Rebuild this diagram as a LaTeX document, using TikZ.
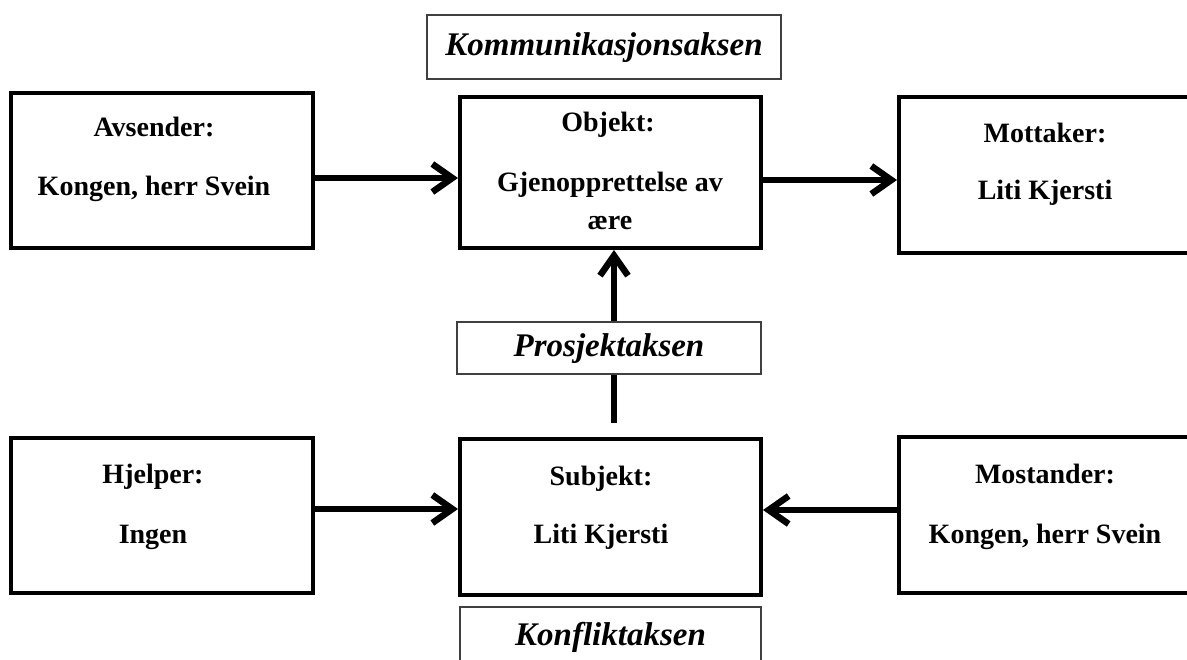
\documentclass[tikz,border=0pt]{standalone}
\usepackage{fontspec}
\setmainfont{Liberation Serif}
\usetikzlibrary{arrows.meta}

\tikzset{
  akt/.style={draw,line width=4pt,minimum width=302pt,minimum height=155pt,inner sep=0pt},
  tittel/.style={anchor=base,inner sep=0pt,font=\fontsize{28}{34}\selectfont\bfseries},
  aksen/.style={draw=black!75,fill=white,line width=1.5pt,inner sep=0pt,text height=20pt,text depth=2pt,
    font=\fontsize{33}{38}\selectfont\bfseries\itshape},
  pil/.style={line width=6.5pt,-{Straight Barb[length=20pt,width=28pt]}}
}

\begin{document}
\begin{tikzpicture}[x=1pt,y=-1pt]
            \useasboundingbox (0,0) rectangle (1187,660);

            % boksene
            \node (avsender) at (162,170.5) [akt] {};
            \node (objekt) at (610.5,172.5) [akt,minimum width=301pt,minimum height=151pt] {};
            \node (mottaker) at (1045,175) [akt,minimum width=292pt,minimum height=156pt] {};
            \node (hjelper) at (162,515.5) [akt] {};
            \node (subjekt) at (610.5,517) [akt,minimum width=301pt,minimum height=156pt] {};
            \node (mostander) at (1045,515) [akt,minimum width=292pt,minimum height=156pt] {};

            % tekstene
            \node (avsenderT) at (154,137) [tittel] {Avsender:};
            \node (avsenderB) at (154,196) [tittel] {Kongen, herr Svein};
            \node (objektT) at (608,132) [tittel] {Objekt:};
            \node (objektB) at (610,192) [tittel] {Gjenopprettelse av};
            \node (objektC) at (610,230) [tittel] {ære};
            \node (mottakerT) at (1045,143) [tittel] {Mottaker:};
            \node (mottakerB) at (1045,200) [tittel] {Liti Kjersti};
            \node (hjelperT) at (153,483) [tittel] {Hjelper:};
            \node (hjelperB) at (153,543) [tittel] {Ingen};
            \node (subjektT) at (601,485) [tittel] {Subjekt:};
            \node (subjektB) at (601,543) [tittel] {Liti Kjersti};
            \node (mostanderT) at (1045,483) [tittel] {Mostander:};
            \node (mostanderB) at (1045,543) [tittel] {Kongen, herr Svein};

            % pilene
            \coordinate (prosjStart) at (614,423);
            \draw[pil] ([yshift=-7.5pt]avsender.east) -- ([yshift=-5.5pt]objekt.west);
            \draw[pil] ([yshift=-7.5pt]objekt.east) -- ([yshift=-5pt]mottaker.west);
            \draw[pil] ([yshift=6.5pt]hjelper.east) -- ([yshift=8pt]subjekt.west);
            \draw[pil] ([yshift=5pt]mostander.west) -- ([yshift=7pt]subjekt.east);
            \draw[pil] (prosjStart) -- (prosjStart |- objekt.south);

            % aksene
            \node (kommunikasjon) at (604,47) [aksen,minimum width=354pt,minimum height=64pt] {Kommunikasjonsaksen};
            \node (prosjekt) at (609,348) [aksen,minimum width=304pt,minimum height=52pt] {Prosjektaksen};
            \node (konflikt) at (610.5,636) [aksen,minimum width=301pt,minimum height=58pt] {Konfliktaksen};

        \end{tikzpicture}
\end{document}
